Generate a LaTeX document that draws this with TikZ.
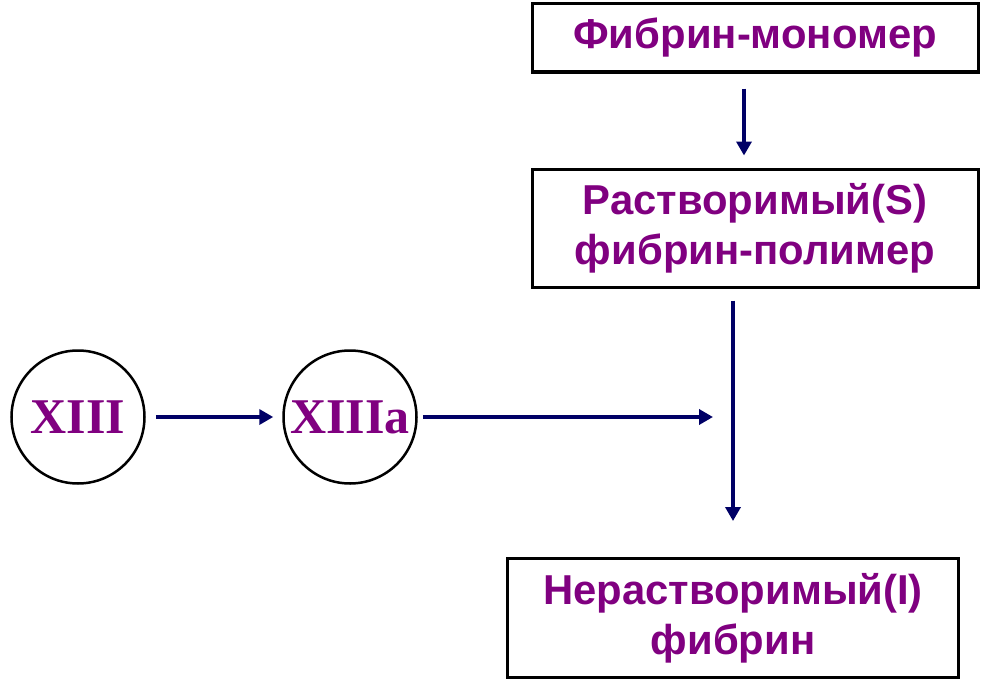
\documentclass[tikz,border=0pt]{standalone}
\usepackage{fontspec}
\setmainfont{Liberation Sans}
\newfontfamily\romanfont{Liberation Serif}
\usetikzlibrary{arrows.meta}
\definecolor{stagecol}{HTML}{800080}
\definecolor{flowcol}{HTML}{000066}
\begin{document}
\begin{tikzpicture}
[x=1pt,y=-1pt,
stage/.style={rectangle,draw=black,line width=3pt,text=stagecol,align=center,
  font=\fontsize{41.8}{50}\selectfont\bfseries,inner sep=0pt},
factor/.style={circle,draw=black,line width=2.5pt,minimum size=133pt,inner sep=0pt,
  text=stagecol,font=\fontsize{50}{50}\selectfont\romanfont\bfseries},
flow/.style={draw=flowcol,line width=3.5pt,-{Triangle[width=15pt,length=14pt]}}]
\useasboundingbox (0,0) rectangle (982,693);
\node[stage,minimum width=446pt,minimum height=68pt] (mono) at (755,38) {Фибрин-мономер};
\node[stage,minimum width=446pt,minimum height=118pt] (soluble) at (755,228) {Растворимый(S)\\фибрин-полимер};
\node[stage,minimum width=451pt,minimum height=119pt] (insoluble) at (733,618) {Нерастворимый(I)\\фибрин};
\node[factor] (f13) at (78,417) {XIII};
\node[factor] (f13a) at (350,417) {XIIIa};
\coordinate (join) at (insoluble.north |- f13a);
\draw[flow] ([xshift=-11pt,yshift=-15pt]mono.south) -- ([xshift=-11pt,yshift=12pt]soluble.north);
\draw[flow] ([yshift=-12pt]soluble.south -| insoluble.north) -- ([yshift=36pt]insoluble.north);
\draw[flow] ([xshift=10pt]f13.east) -- ([xshift=-9pt]f13a.west);
\draw[flow] ([xshift=5pt]f13a.east) -- ([xshift=-20pt]join);
\end{tikzpicture}
\end{document}
